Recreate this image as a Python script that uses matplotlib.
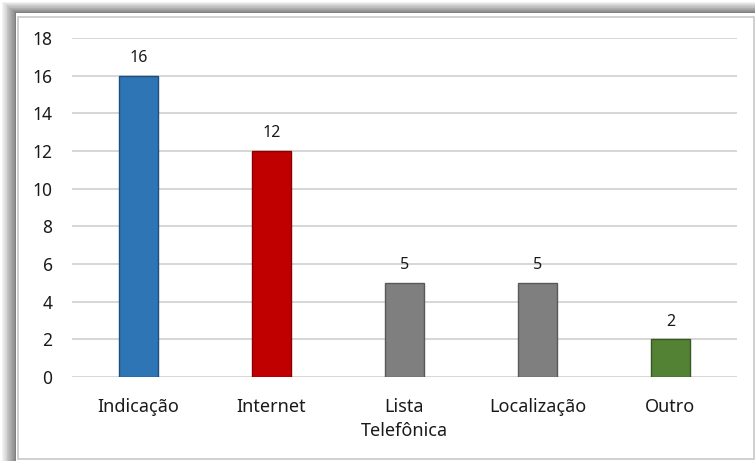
import matplotlib
matplotlib.use("Agg")
import matplotlib.pyplot as plt
from matplotlib.patches import Rectangle

categories = ["Indicação", "Internet", "Lista\nTelefônica", "Localização", "Outro"]
values = [16, 12, 5, 5, 2]
colors = ["#2E75B6", "#C00000", "#7F7F7F", "#7F7F7F", "#548235"]
edges = ["#1F4E79", "#8B0000", "#595959", "#595959", "#385723"]
yticks = [0, 2, 4, 6, 8, 10, 12, 14, 16, 18]

plt.rcParams['font.family'] = ['Noto Sans', 'DejaVu Sans']

fig = plt.figure(figsize=(7.55, 4.61), dpi=100)
W, H = 755, 461

fig.patches.append(Rectangle((0, 0), 1, 1, transform=fig.transFigure,
                             facecolor="white", edgecolor="none", zorder=-5))
# gradient shadow left & top
for i in range(16):
    shade = 0.95 - 0.03 * i
    fig.patches.append(Rectangle(((2 + i * 0.9) / W, 0), 1 / W, (H - 3 - i * 0.7) / H,
                                 transform=fig.transFigure, facecolor=(shade, shade, shade),
                                 edgecolor="none", zorder=-4))
    fig.patches.append(Rectangle(((2 + i * 0.9) / W, (H - 3 - i * 0.7) / H), (W - 2) / W, 1 / H,
                                 transform=fig.transFigure, facecolor=(shade, shade, shade),
                                 edgecolor="none", zorder=-4))
fig.patches.append(Rectangle((18 / W, 2 / H), (W - 19) / W, (H - 19) / H,
                             transform=fig.transFigure, facecolor="white",
                             edgecolor="#C8C8C8", linewidth=1.2, zorder=-3))

ax = fig.add_axes([72 / W, 1 - 377 / H, (737 - 72) / W, (377 - 38) / H])
ax.set_facecolor("none")
x = range(len(categories))
bars = ax.bar(x, values, width=0.3, color=colors, edgecolor=edges, linewidth=1.0, zorder=3)
for xi, v in zip(x, values):
    ax.text(xi, v + 0.72, str(v), ha="center", va="baseline", fontsize=11.5, color="#1a1a1a")

ax.set_xlim(-0.5, len(categories) - 0.5)
ax.set_ylim(0, 18)
ax.set_yticks(yticks)
ax.set_yticklabels([str(t) for t in yticks], fontsize=12.5, color="#1a1a1a")
ax.set_xticks(list(x))
ax.set_xticklabels(categories, fontsize=13, color="#1a1a1a", linespacing=1.45)
ax.tick_params(axis="both", length=0)
ax.tick_params(axis="y", pad=14)
ax.tick_params(axis="x", pad=15)
ax.yaxis.grid(True, color="#D0D0D0", linewidth=1.2, zorder=0)
ax.set_axisbelow(True)
for s in ax.spines.values():
    s.set_visible(False)

fig.savefig("out.png", dpi=100)
